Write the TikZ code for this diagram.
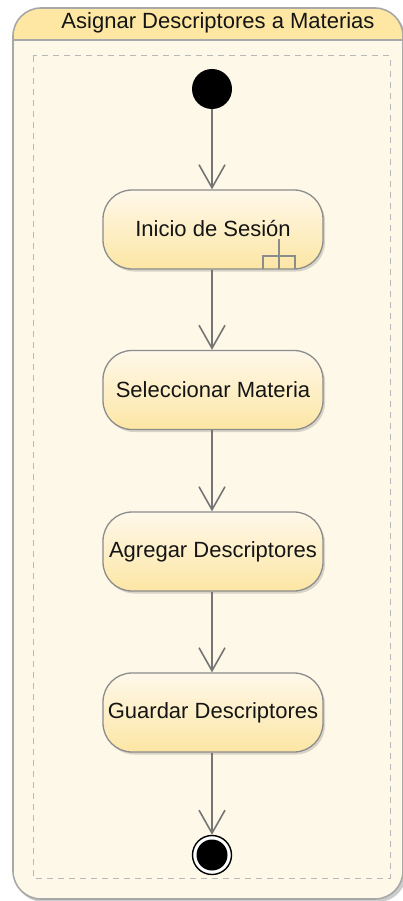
\documentclass[tikz,border=0pt]{standalone}
\usepackage{fontspec}
\setmainfont{Liberation Sans}
\usetikzlibrary{arrows.meta,shadows,positioning}
\definecolor{framebg}{HTML}{FEF8E8}
\definecolor{framegray}{HTML}{A8A8A8}
\definecolor{headbg}{HTML}{FDE7A2}
\definecolor{boxtop}{HTML}{FFF8EA}
\definecolor{boxbot}{HTML}{FCE6A4}
\definecolor{boxgray}{HTML}{8C8C8C}
\definecolor{linegray}{HTML}{757575}
\definecolor{txt}{HTML}{151515}
\tikzset{
  actbox/.style={draw=boxgray, line width=1.3pt, rounded corners=29pt,
    top color=boxtop, bottom color=boxbot,
    minimum width=220pt, minimum height=79pt, inner sep=0pt,
    font=\fontsize{22}{24}\selectfont, text=txt,
    drop shadow={shadow xshift=2pt, shadow yshift=-2.5pt, opacity=0.25, fill=black!60}},
  flow/.style={draw=linegray, line width=1.6pt,
    -{Straight Barb[length=23pt,width=26pt,line width=1.6pt]}},
}
\begin{document}
\begin{tikzpicture}[x=1pt,y=-1pt]
\useasboundingbox (0,0) rectangle (403,901);
% frame
\begin{scope}
  \clip (0,0) rectangle (403,901);
  \path[fill=black!20, rounded corners=28pt] (15,11) rectangle (406,902);
  \path[fill=framebg, rounded corners=28pt] (13,8) rectangle (403,899);
  \begin{scope}
    \clip[rounded corners=28pt] (13,8) rectangle (403,899);
    \fill[headbg] (13,8) rectangle (403,40);
  \end{scope}
  \draw[framegray, line width=1.5pt] (13,40) -- (403,40);
  \draw[framegray, line width=1.6pt, rounded corners=28pt] (13,8) rectangle (403,899);
\end{scope}
\node[font=\fontsize{22}{24}\selectfont, text=txt] (title) at (218,23) {Asignar Descriptores a Materias};
% dashed region
\draw[black!28, line width=1pt, dash pattern=on 6pt off 5pt] (33,56) rectangle (390,878);
% initial
\node[circle, fill=black, minimum size=40pt, inner sep=0pt] (init) at (212,89) {};
% activities
\node[actbox] (a1) at (213,229.5) {\raisebox{2pt}{Inicio de Sesión}};
\node[actbox] (a2) at (213,390) {Seleccionar Materia};
\node[actbox] (a3) at (213,551.5) {Agregar Descriptores};
\node[actbox] (a4) at (213,712.5) {Guardar Descriptores};
% rake
\draw[boxgray, line width=1.1pt] (263,269) -- (263,256) -- (295,256) -- (295,269);
\draw[boxgray, line width=1.1pt] (279,239) -- (279,269);
% final
\node[circle, draw=black, line width=1.4pt, fill=white, minimum size=39pt, inner sep=0pt] (fin) at (212,855) {};
\node[circle, fill=black, minimum size=31pt, inner sep=0pt] (finin) at (fin.center) {};
% flows
\draw[flow] (init.south) -- (init.south |- a1.north);
\draw[flow] (a1.south -| init.south) -- (init.south |- a2.north);
\draw[flow] (a2.south -| init.south) -- (init.south |- a3.north);
\draw[flow] (a3.south -| init.south) -- (init.south |- a4.north);
\draw[flow] (a4.south -| init.south) -- (fin.north);
\end{tikzpicture}
\end{document}
